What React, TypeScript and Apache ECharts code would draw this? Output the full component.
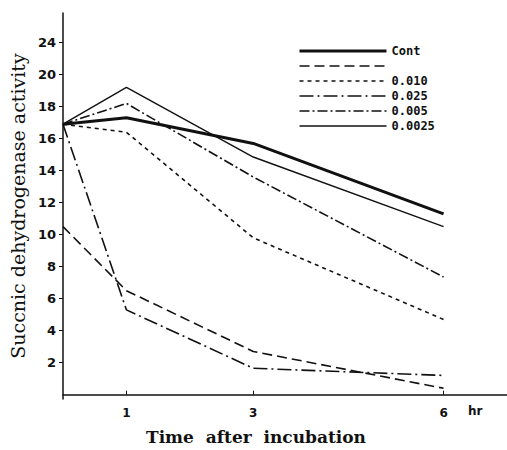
import React, { useEffect, useRef } from "react";
import * as echarts from "echarts";

const hours = [0, 1, 3, 6];
const xTickValues = [1, 3, 6];
const yTickValues = [2, 4, 6, 8, 10, 12, 14, 16, 18, 20, 22];
const yTickLabels = ["2", "4", "6", "8", "10", "12", "14", "16", "18", "20", "24"];

const seriesNames = ["Cont", " ", "0.010", "0.025", "0.005", "0.0025"];
const contValues = [16.9, 17.3, 15.7, 11.3];
const unlabeledValues = [10.5, 6.5, 2.7, 0.4];
const c0010Values = [16.9, 16.4, 9.8, 4.7];
const c0025Values = [16.9, 5.3, 1.65, 1.2];
const c0005Values = [16.9, 18.2, 13.6, 7.35];
const c00025Values = [16.9, 19.2, 14.85, 10.5];

const allValues = [contValues, unlabeledValues, c0010Values, c0025Values, c0005Values, c00025Values];
const lineWidths = [3, 1.6, 1.6, 1.6, 1.6, 1.4];
const lineTypes: any[] = ["solid", [10, 5], [4, 4], [14, 4, 2, 4], [10, 3, 2, 3], "solid"];

export default function App() {
  const ref = useRef<HTMLDivElement>(null);
  useEffect(() => {
    if (!ref.current) return;
    const chart = echarts.init(ref.current, null, { renderer: "svg" });
    const ink = "#111";
    chart.setOption({
      animation: false,
      backgroundColor: "#fff",
      grid: { left: 60, right: 0, top: 13, bottom: 51, containLabel: false },
      legend: {
        orient: "vertical",
        left: 293,
        top: 39,
        itemWidth: 87,
        itemHeight: 14,
        itemGap: 1,
        selectedMode: false,
        itemStyle: { opacity: 0 },
        data: seriesNames.map((name, i) => ({
          name,
          lineStyle: { width: lineWidths[i], type: lineTypes[i], color: ink },
          itemStyle: { opacity: 0 },
        })),
        textStyle: {
          fontFamily: "DejaVu Sans Mono",
          fontWeight: "bold",
          fontSize: 12,
          color: ink,
          lineHeight: 14,
        },
      },
      xAxis: {
        type: "value",
        min: 0,
        max: 7,
        axisLine: { show: true, lineStyle: { color: ink, width: 1.5 } },
        axisTick: { show: true, inside: true, length: 4, customValues: xTickValues, lineStyle: { color: ink } },
        axisLabel: {
          customValues: xTickValues,
          margin: 8,
          color: ink,
          fontFamily: "DejaVu Sans",
          fontWeight: "bold",
          fontSize: 12,
        },
        splitLine: { show: false },
      },
      yAxis: {
        type: "value",
        min: -0.27,
        max: 23.85,
        name: "Succnic dehydrogenase activity",
        nameLocation: "middle",
        nameRotate: 90,
        nameGap: 25,
        nameTextStyle: { fontFamily: "DejaVu Serif", fontSize: 19, color: ink },
        axisLine: { show: true, lineStyle: { color: ink, width: 1.5 } },
        axisTick: { show: true, length: 4, customValues: yTickValues, lineStyle: { color: ink } },
        axisLabel: {
          customValues: yTickValues,
          margin: 7,
          color: ink,
          fontFamily: "DejaVu Sans",
          fontWeight: "bold",
          fontSize: 13,
          formatter: (v: number) => {
            const i = yTickValues.indexOf(Math.round(v));
            return i >= 0 ? yTickLabels[i] : "";
          },
        },
        splitLine: { show: false },
      },
      graphic: [
        {
          type: "text",
          left: 468,
          top: 405,
          style: { text: "hr", font: "bold 12px 'DejaVu Sans'", fill: ink },
        },
        {
          type: "text",
          left: 146,
          top: 428,
          style: { text: "Time  after  incubation", font: "bold 17px 'DejaVu Serif'", fill: ink },
        },
      ],
      series: seriesNames.map((name, i) => ({
        name,
        type: "line",
        symbol: "none",
        data: hours.map((h, j) => [h, allValues[i][j]]),
        lineStyle: { color: ink, width: lineWidths[i], type: lineTypes[i] },
        itemStyle: { color: ink },
      })),
    });
    return () => chart.dispose();
  }, []);
  return <div ref={ref} style={{ position: "absolute", left: 0, top: 0, width: 507, height: 450 }} />;
}
